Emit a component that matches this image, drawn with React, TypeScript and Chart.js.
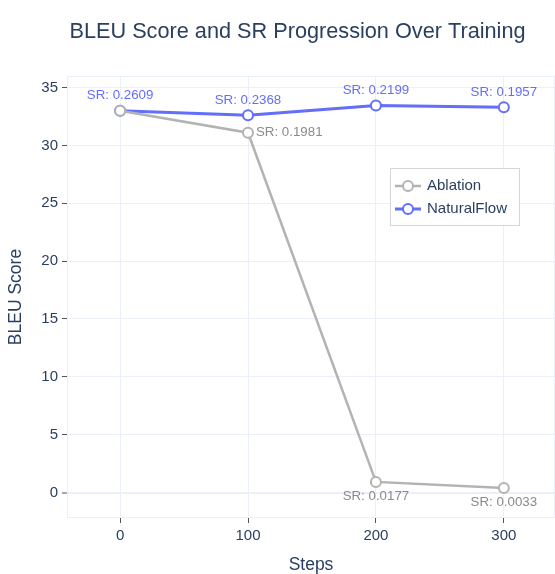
import React, { useEffect, useRef } from "react";
import { Chart, registerables } from "chart.js";

Chart.register(...registerables);

const steps = [0, 100, 200, 300];
const ablationBleu = [33.0, 31.1, 0.92, 0.4];
const naturalFlowBleu = [33.0, 32.6, 33.45, 33.3];
const ablationSR = ["", "0.1981", "0.0177", "0.0033"];
const naturalFlowSR = ["0.2609", "0.2368", "0.2199", "0.1957"];
const ablationLabelPos = ["top", "right", "bottom", "bottom"];
const naturalFlowLabelPos = ["top", "top", "top", "top"];
const xTicks = [0, 100, 200, 300];
const yTicks = [0, 5, 10, 15, 20, 25, 30, 35];
const seriesNames = ["Ablation", "NaturalFlow"];

const FONT = "'Liberation Sans', Arial, sans-serif";
const TEXT = "#2a3f5f";
const BLUE = "#636efa";
const GRAY = "#b3b3b3";
const GRID = "#ebf0f8";

export default function App() {
  const ref = useRef<HTMLCanvasElement | null>(null);
  useEffect(() => {
    document.body.style.margin = "0";
    const canvas = ref.current!;
    const posLists = [ablationLabelPos, naturalFlowLabelPos];
    const srLists = [ablationSR, naturalFlowSR];
    const textColors = ["#8a8a8a", BLUE];

    const extras = {
      id: "extras",
      beforeDatasetsDraw(chart: any) {
        const { ctx, chartArea: a } = chart;
        ctx.save();
        ctx.strokeStyle = GRID;
        ctx.lineWidth = 1;
        ctx.strokeRect(a.left + 0.5, a.top + 0.5, a.right - a.left - 1, a.bottom - a.top - 1);
        ctx.restore();
      },
      afterDatasetsDraw(chart: any) {
        const { ctx } = chart;
        ctx.save();
        ctx.font = `13.3px ${FONT}`;
        [0, 1].forEach((di) => {
          const meta = chart.getDatasetMeta(di);
          meta.data.forEach((pt: any, i: number) => {
            if (!srLists[di][i]) return;
            const txt = "SR: " + srLists[di][i];
            const pos = posLists[di][i];
            ctx.fillStyle = textColors[di];
            ctx.textBaseline = "middle";
            if (pos === "top") {
              ctx.textAlign = "center";
              ctx.fillText(txt, pt.x, pt.y - 15);
            } else if (pos === "bottom") {
              ctx.textAlign = "center";
              ctx.fillText(txt, pt.x, pt.y + 14);
            } else {
              ctx.textAlign = "left";
              ctx.fillText(txt, pt.x + 8, pt.y);
            }
          });
        });
        ctx.restore();
      },
      afterDraw(chart: any) {
        const { ctx } = chart;
        ctx.save();
        ctx.font = `21.7px ${FONT}`;
        ctx.fillStyle = TEXT;
        ctx.textAlign = "center";
        ctx.textBaseline = "middle";
        ctx.fillText("BLEU Score and SR Progression Over Training", 297.5, 32);
        const lx = 390, ly = 168, lw = 130, lh = 58;
        ctx.fillStyle = "#ffffff";
        ctx.fillRect(lx, ly, lw, lh);
        ctx.strokeStyle = "#d6d6d6";
        ctx.lineWidth = 1;
        ctx.strokeRect(lx + 0.5, ly + 0.5, lw - 1, lh - 1);
        const colors = [GRAY, BLUE];
        const rows = [186, 209];
        [0, 1].forEach((i) => {
          const y = rows[i];
          ctx.strokeStyle = colors[i];
          ctx.lineWidth = i === 1 ? 3 : 2.5;
          ctx.beginPath();
          ctx.moveTo(395, y);
          ctx.lineTo(421, y);
          ctx.stroke();
          ctx.beginPath();
          ctx.arc(408, y, 5, 0, Math.PI * 2);
          ctx.fillStyle = "#fff";
          ctx.fill();
          ctx.lineWidth = 2;
          ctx.stroke();
          ctx.fillStyle = TEXT;
          ctx.font = `15px ${FONT}`;
          ctx.textAlign = "left";
          ctx.textBaseline = "middle";
          ctx.fillText(seriesNames[i], 427, y);
        });
        ctx.restore();
      },
    };

    const chart = new Chart(canvas, {
      type: "line",
      data: {
        datasets: [
          {
            label: seriesNames[0],
            data: steps.map((s, i) => ({ x: s, y: ablationBleu[i] })),
            borderColor: GRAY,
            backgroundColor: "#ffffff",
            borderWidth: 2.5,
            pointRadius: 5,
            pointBorderWidth: 2,
            pointBackgroundColor: "#ffffff",
            pointBorderColor: GRAY,
          },
          {
            label: seriesNames[1],
            data: steps.map((s, i) => ({ x: s, y: naturalFlowBleu[i] })),
            borderColor: BLUE,
            backgroundColor: "#ffffff",
            borderWidth: 3,
            pointRadius: 5,
            pointBorderWidth: 2,
            pointBackgroundColor: "#ffffff",
            pointBorderColor: BLUE,
          },
        ],
      },
      options: {
        responsive: false,
        animation: false,
        layout: { autoPadding: false, padding: { top: 76, left: 0, right: 0, bottom: 0 } },
        plugins: {
          legend: { display: false },
          title: { display: false },
          tooltip: { enabled: false },
        },
        scales: {
          x: {
            type: "linear",
            min: -41.5,
            max: 340,
            afterBuildTicks: (s: any) => {
              s.ticks = xTicks.map((v) => ({ value: v }));
            },
            afterFit: (s: any) => {
              s.height = 56;
              s.paddingLeft = 0;
              s.paddingRight = 0;
            },
            grid: {
              color: GRID,
              tickColor: "#555",
              tickLength: 5,
              drawTicks: true,
            },
            border: { display: false },
            ticks: {
              color: TEXT,
              font: { family: FONT, size: 15 },
              padding: 4,
              maxRotation: 0,
            },
            title: {
              display: true,
              text: "Steps",
              color: TEXT,
              font: { family: FONT, size: 17.5, lineHeight: 1 },
              padding: { top: 0, bottom: 0 },
            },
          },
          y: {
            type: "linear",
            min: -2.2,
            max: 36,
            afterBuildTicks: (s: any) => {
              s.ticks = yTicks.map((v) => ({ value: v }));
            },
            afterFit: (s: any) => {
              s.width = 67;
              s.paddingTop = 0;
              s.paddingBottom = 0;
            },
            grid: {
              color: GRID,
              lineWidth: (c: any) => (c.tick && c.tick.value === 0 ? 2 : 1),
              tickColor: "#555",
              tickLength: 5,
              tickWidth: 1,
              drawTicks: true,
            },
            border: { display: false },
            ticks: {
              color: TEXT,
              font: { family: FONT, size: 15 },
              padding: 4,
            },
            title: {
              display: true,
              text: "BLEU Score",
              color: TEXT,
              font: { family: FONT, size: 17.5, lineHeight: 1 },
              padding: { top: 7, bottom: 0 },
            },
          },
        },
      },
      plugins: [extras],
    } as any);
    return () => chart.destroy();
  }, []);
  return (
    <div style={{ position: "fixed", left: 0, top: 0, width: 555, height: 574 }}>
      <canvas ref={ref} width={555} height={574} />
    </div>
  );
}
